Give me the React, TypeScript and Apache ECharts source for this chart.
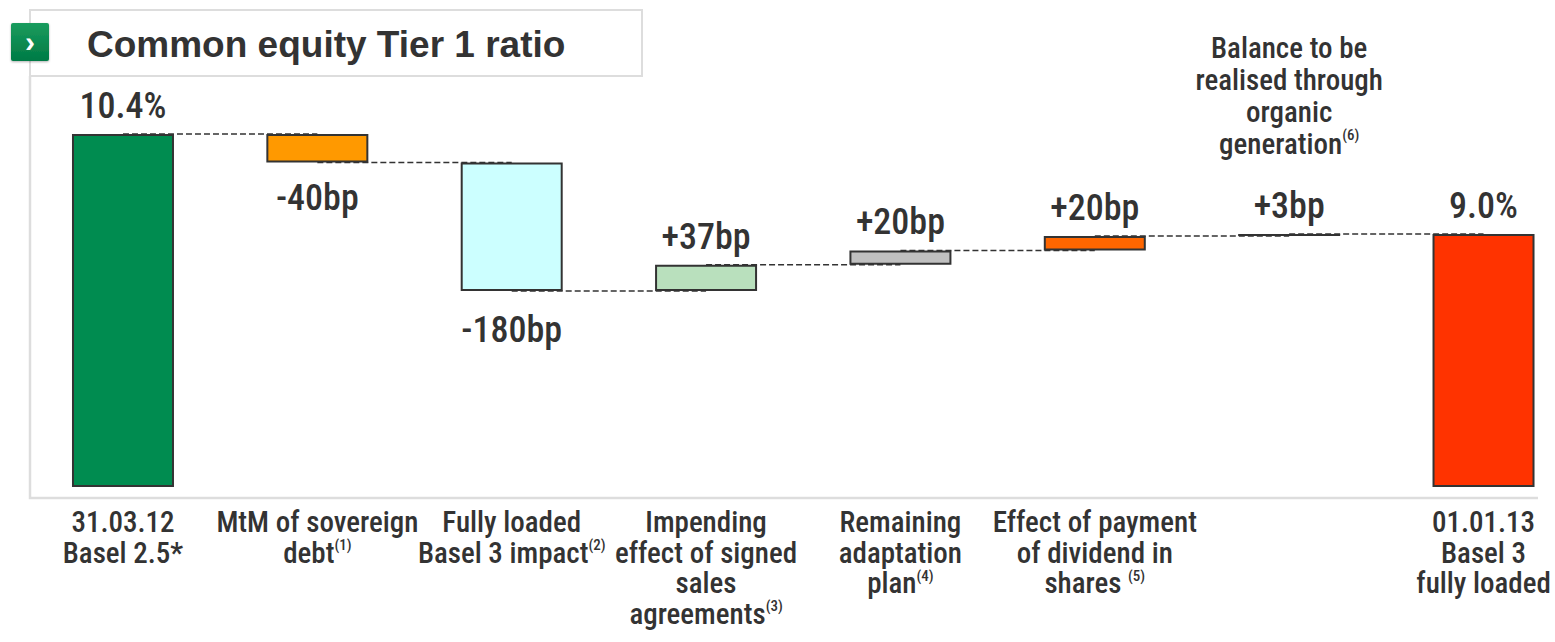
import React, { useEffect, useRef } from "react";
import * as echarts from "echarts";

// ---------- data ----------
const title = "Common equity Tier 1 ratio";
const categories = [
  "31.03.12\nBasel 2.5*",
  "MtM of sovereign\ndebt",
  "Fully loaded\nBasel 3 impact",
  "Impending\neffect of signed\nsales\nagreements",
  "Remaining\nadaptation\nplan",
  "Effect of payment\nof dividend in\nshares ",
  "",
  "01.01.13\nBasel 3\nfully loaded",
];
const footnotes = ["", "(1)", "(2)", "(3)", "(4)", "(5)", "", ""];
const startRatio = 10.4; // %
const changesBp = [-40, -180, 37, 20, 20, 3];
const endRatio = 9.0; // %
const valueLabels = ["10.4%", "-40bp", "-180bp", "+37bp", "+20bp", "+20bp", "+3bp", "9.0%"];
const barColors = ["#008C50", "#FF9900", "#CCFFFF", "#B9E0BD", "#C0C0C0", "#FF6600", "#333333", "#FF3300"];
const noteLines = ["Balance to be", "realised through", "organic", "generation"];
const noteFootnote = "(6)";

const NARROW = "'Roboto Condensed', 'DejaVu Sans Condensed', sans-serif";
const WIDE = "'Liberation Sans', Arial, sans-serif";
const TXT = "#333333";
const W = 500;

export default function App() {
  const ref = useRef<HTMLDivElement>(null);

  useEffect(() => {
    document.body.style.margin = "0";
    document.body.style.overflow = "hidden";
    const chart = echarts.init(ref.current!, null, { renderer: "svg" });

    // waterfall levels: levels[i] = level after bar i (i = 0..6)
    const levels: number[] = [startRatio];
    changesBp.forEach((bp) => levels.push(+(levels[levels.length - 1] + bp / 100).toFixed(4)));
    const base: number[] = [0];
    const height: number[] = [startRatio];
    changesBp.forEach((bp, k) => {
      base.push(Math.min(levels[k], levels[k + 1]));
      height.push(Math.abs(bp) / 100);
    });
    base.push(0);
    height.push(endRatio);

    const isNeg = (i: number) => i >= 1 && i <= changesBp.length && changesBp[i - 1] < 0;

    const deltaData = height.map((h, i) => {
      const neg = isNeg(i);
      const item: any = {
        value: h,
        itemStyle: { color: barColors[i] },
        label: {
          show: true,
          position: neg ? "bottom" : "top",
          distance: neg ? (i === 1 ? 17 : 21) : 10,
          formatter: valueLabels[i],
        },
      };
      if (i === 6) {
        item.label.formatter =
          noteLines
            .map((l, k) => (k === noteLines.length - 1 ? `{note|${l}}{nsup|${noteFootnote}}` : `{note|${l}}`))
            .join("\n") + `\n{gap| }\n{val|${valueLabels[i]}}`;
        item.label.rich = {
          note: { fontFamily: NARROW, fontWeight: W, fontSize: 29, lineHeight: 32, color: TXT },
          nsup: { fontFamily: NARROW, fontWeight: W, fontSize: 15, lineHeight: 18, verticalAlign: "top", color: TXT },
          gap: { fontSize: 10, lineHeight: 28 },
          val: { fontFamily: NARROW, fontWeight: W, fontSize: 36, lineHeight: 36, color: TXT },
        };
      }
      return item;
    });

    const connectorData = levels.map((lv, i) => [i, lv]);

    chart.setOption({
      animation: false,
      grid: { left: 25.8, width: 1554.9, top: 134, bottom: 156, containLabel: false },
      xAxis: {
        type: "category",
        data: categories,
        axisLine: { show: false },
        axisTick: { show: false },
        axisLabel: {
          interval: 0,
          margin: 21,
          color: TXT,
          fontFamily: NARROW,
          fontWeight: W,
          fontSize: 29,
          lineHeight: 30.5,
          formatter: (v: string, i: number) => (footnotes[i] ? `${v}{sup|${footnotes[i]}}` : v),
          rich: {
            sup: { fontFamily: NARROW, fontWeight: W, fontSize: 15, lineHeight: 18, verticalAlign: "top", color: TXT },
          },
        },
      },
      yAxis: { type: "value", min: 5.47, max: 10.4, show: false, splitLine: { show: false } },
      series: [
        {
          type: "custom",
          z: 1,
          data: connectorData,
          renderItem: (params: any, api: any) => {
            const i = api.value(0);
            const v = api.value(1);
            if (i >= categories.length - 1) return null;
            const p1 = api.coord([i, v]);
            const p2 = api.coord([i + 1, v]);
            return {
              type: "line",
              shape: { x1: p1[0], y1: p1[1], x2: p2[0], y2: p2[1] },
              style: { stroke: "#333", lineWidth: 1.5, lineDash: [6, 3] },
            };
          },
        },
        {
          type: "bar",
          stack: "w",
          z: 2,
          barWidth: 102,
          itemStyle: { color: "transparent", borderWidth: 0 },
          data: base,
          silent: true,
        },
        {
          type: "bar",
          stack: "w",
          z: 2,
          barWidth: 102,
          itemStyle: { borderColor: "#333", borderWidth: 2 },
          label: { color: TXT, fontFamily: NARROW, fontWeight: W, fontSize: 36 },
          data: deltaData,
        },
      ],
      graphic: [
        {
          type: "polyline",
          z: 0,
          shape: { points: [[30, 76], [30, 498], [1538, 498]] },
          style: { stroke: "#DDDDDD", lineWidth: 2.5, fill: null },
        },
        {
          type: "rect",
          z: 1,
          shape: { x: 30, y: 10, width: 612, height: 66 },
          style: { fill: "#FFFFFF", stroke: "#DDDDDD", lineWidth: 2 },
        },
        {
          type: "rect",
          z: 2,
          shape: { x: 11, y: 23, width: 38, height: 38, r: 2 },
          style: {
            fill: new echarts.graphic.LinearGradient(0, 0, 0, 1, [
              { offset: 0, color: "#1A9C5E" },
              { offset: 1, color: "#007A45" },
            ]),
            shadowBlur: 2,
            shadowColor: "rgba(0,0,0,0.3)",
            shadowOffsetY: 1,
          },
        },
        {
          type: "text",
          z: 3,
          style: {
            x: 30,
            y: 41,
            text: "›",
            fill: "#FFFFFF",
            font: `bold 30px ${WIDE}`,
            textAlign: "center",
            textVerticalAlign: "middle",
          },
        },
        {
          type: "text",
          z: 3,
          style: {
            x: 87,
            y: 44,
            text: title,
            fill: TXT,
            font: `bold 37px ${WIDE}`,
            textAlign: "left",
            textVerticalAlign: "middle",
          },
        },
      ],
    });

    return () => chart.dispose();
  }, []);

  return <div ref={ref} style={{ width: 1610, height: 642 }} />;
}
